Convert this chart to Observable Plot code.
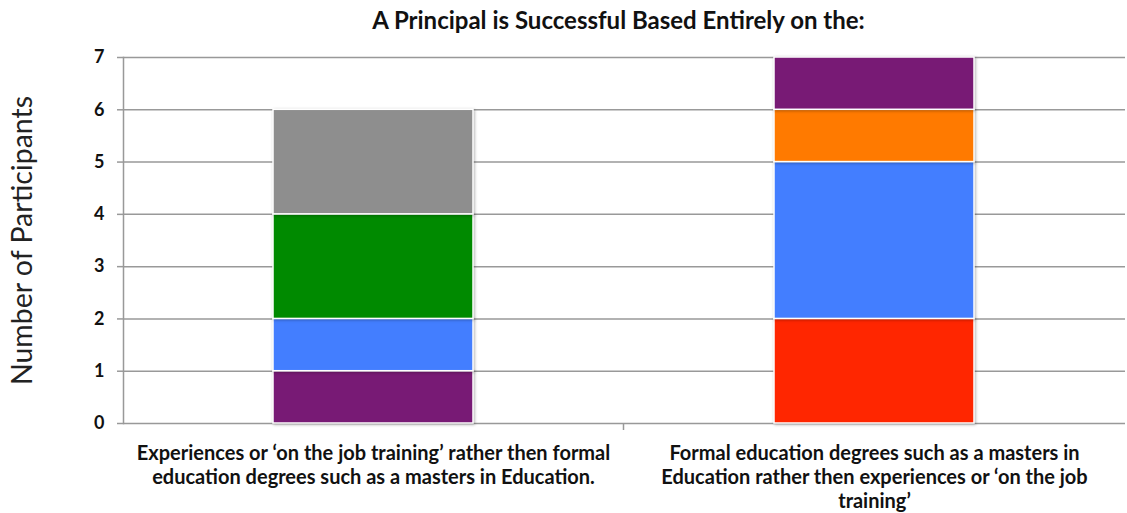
<!DOCTYPE html>
<html>
<head>
<meta charset="utf-8">
<script src="https://cdn.jsdelivr.net/npm/d3@7"></script>
<script src="https://cdn.jsdelivr.net/npm/@observablehq/plot@0.6"></script>
<style>
  html, body { margin: 0; padding: 0; background: #fff; }
  body { width: 1127px; height: 513px; overflow: hidden; font-family: Lato, "Open Sans", sans-serif; }
  #title { height: 40px; line-height: 40px; text-align: center; font-weight: bold; font-size: 24px; color: #111; padding-left: 110px; box-sizing: border-box; }
  g[aria-label="bar"] rect { filter: drop-shadow(1px 1px 1.5px rgba(0,0,0,0.3)); }
</style>
</head>
<body>
<div id="title">A Principal is Successful Based Entirely on the:</div>
<div id="chart"></div>
<script>
const categories = [
  "Experiences or ‘on the job training’ rather then formal\neducation degrees such as a masters in Education.",
  "Formal education degrees such as a masters in\nEducation rather then experiences or ‘on the job\ntraining’"
];
// segments, bottom to top, for each category (no legend in the source; named by group)
const seriesExperience = ["Group 1", "Group 2", "Group 3", "Group 4"];
const valuesExperience = [1, 1, 2, 2];
const seriesFormal = ["Group 5", "Group 2", "Group 6", "Group 1"];
const valuesFormal = [2, 3, 1, 1];
const colorDomain = ["Group 1", "Group 2", "Group 3", "Group 4", "Group 5", "Group 6"];
const colorRange = ["#781A75", "#437EFF", "#008A00", "#8E8E8E", "#FF2600", "#FF7A00"];
const yTicks = [0, 1, 2, 3, 4, 5, 6, 7];

const data = [
  ...seriesExperience.map((s, i) => ({category: categories[0], series: s, value: valuesExperience[i]})),
  ...seriesFormal.map((s, i) => ({category: categories[1], series: s, value: valuesFormal[i]}))
];

const W = 1127, H = 473;
const boundaryTicks = (index, scales, values, dimensions) => {
  const g = d3.create("svg:g");
  const x = scales.x;
  const step = x.step();
  const bw = x.bandwidth();
  const pos = [x(categories[1]) - (step - bw) / 2];
  const y0 = scales.y(0);
  for (const p of pos) {
    g.append("line").attr("x1", p).attr("x2", p).attr("y1", y0).attr("y2", y0 + 7)
      .attr("stroke", "#999").attr("stroke-width", 1.5);
  }
  return g.node();
};

const chart = Plot.plot({
  width: W,
  height: H,
  marginLeft: 123,
  marginRight: 2,
  marginTop: 17,
  marginBottom: 90,
  style: {fontFamily: "Lato, sans-serif", background: "#fff"},
  x: {domain: categories, paddingInner: 0.6, paddingOuter: 0.3, label: null},
  y: {domain: [0, 7], label: null},
  color: {domain: colorDomain, range: colorRange},
  marks: [
    Plot.gridY(yTicks, {stroke: "#999", strokeOpacity: 1, strokeWidth: 1.5}),
    Plot.frame({anchor: "left", stroke: "#999", strokeWidth: 1.5}),
    Plot.axisY(yTicks, {
      tickSize: 6, tickPadding: 13, stroke: "#999", strokeWidth: 1.5, tickFormat: "d",
      fontSize: 18, fontWeight: "bold", fill: "#111",
      label: "Number of Participants", labelAnchor: "center", labelArrow: "none", labelOffset: 112
    }),
    Plot.axisX({tickSize: 0, tickPadding: 19, fontSize: 20, fontWeight: "bold", fill: "#111", lineHeight: 1.2, textOverflow: null, lineWidth: 100}),
    Plot.barY(data, Plot.stackY({x: "category", y: "value", fill: "series", stroke: "#fff", strokeWidth: 1.5, order: null})),
    boundaryTicks
  ]
});
document.getElementById("chart").appendChild(chart);
const lab = chart.querySelector('g[aria-label="y-axis label"] text');
if (lab) { lab.setAttribute("font-size", "28.5"); lab.setAttribute("font-weight", "normal"); lab.setAttribute("fill", "#222"); }
</script>
</body>
</html>
